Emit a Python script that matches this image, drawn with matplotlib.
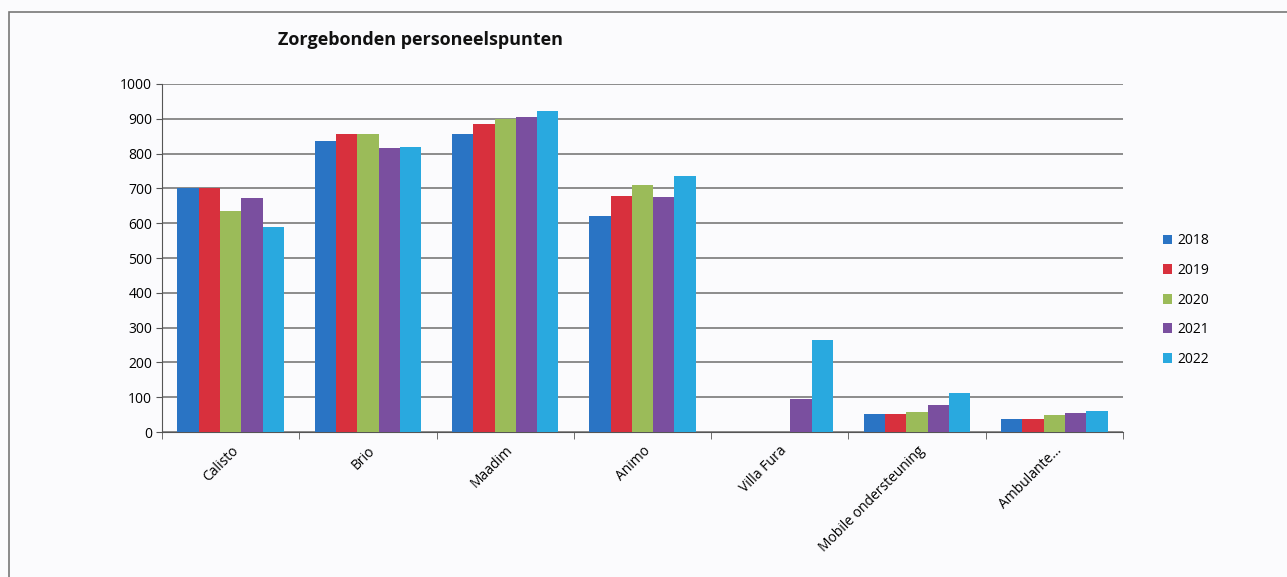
import matplotlib
matplotlib.use("Agg")
import matplotlib.pyplot as plt
import numpy as np
from matplotlib.patches import Rectangle

categories = ["Calisto", "Brio", "Maadim", "Animo", "Villa Fura",
              "Mobile ondersteuning", "Ambulante..."]
years = ["2018", "2019", "2020", "2021", "2022"]
v2018 = [700, 837, 855, 622, 0, 52, 36]
v2019 = [700, 856, 884, 678, 0, 52, 36]
v2020 = [634, 856, 900, 711, 0, 58, 48]
v2021 = [673, 815, 904, 675, 94, 78, 54]
v2022 = [588, 820, 922, 735, 263, 112, 61]
series = [v2018, v2019, v2020, v2021, v2022]
colors = ["#2a74c4", "#d8303d", "#9bbb59", "#7a4f9f", "#29a9df"]
yticks = list(range(0, 1001, 100))

plt.rcParams['font.family'] = ['Open Sans', 'DejaVu Sans']

fig = plt.figure(figsize=(12.87, 5.77), dpi=100)
fig.patch.set_facecolor("#fbfbfd")
ax = fig.add_axes([162/1287, 145/577, (1123-162)/1287, (432-84)/577])
ax.set_facecolor("#fbfbfd")

# page frame
fig.add_artist(Rectangle((9/1287, -0.1), 1.2, (577-12)/577 + 0.1,
                         transform=fig.transFigure, fill=False,
                         edgecolor="#777777", lw=1.2))

x = np.arange(len(categories))
bw = 0.155
for i, (vals, c, y) in enumerate(zip(series, colors, years)):
    ax.bar(x + (i - 2) * bw, vals, width=bw, color=c, label=y, zorder=3)

ax.set_xlim(-0.5, len(categories) - 0.5)
ax.set_ylim(0, 1000)
ax.set_yticks(yticks)
ax.tick_params(axis='y', labelsize=10, length=4, color="#555555", pad=3)
ax.yaxis.grid(True, color="#6d6d6d", lw=1.1, zorder=0)
ax.set_axisbelow(True)
for s in ["top", "right"]:
    ax.spines[s].set_visible(False)
ax.spines["left"].set_color("#555555")
ax.spines["bottom"].set_color("#555555")

ax.set_xticks(x)
ax.set_xticklabels(categories, rotation=45, ha="right", rotation_mode="anchor", fontsize=10)
ax.tick_params(axis='x', which='major', length=0, pad=8)
ax.set_xticks(np.arange(-0.5, len(categories), 1.0), minor=True)
ax.tick_params(axis='x', which='minor', length=5, color="#555555")

fig.text(421/1287, 1 - 40/577, "Zorgebonden personeelspunten", fontsize=13,
         fontweight="bold", ha="center", va="center", color="#111111")

ax.legend(loc="center left", bbox_to_anchor=((1150 - 162) / 961, (432 - 300) / 348),
          frameon=False, fontsize=10, handlelength=0.7, handleheight=0.7,
          labelspacing=1.05, handletextpad=0.4)

fig.savefig("out.png", dpi=100, facecolor=fig.get_facecolor())
